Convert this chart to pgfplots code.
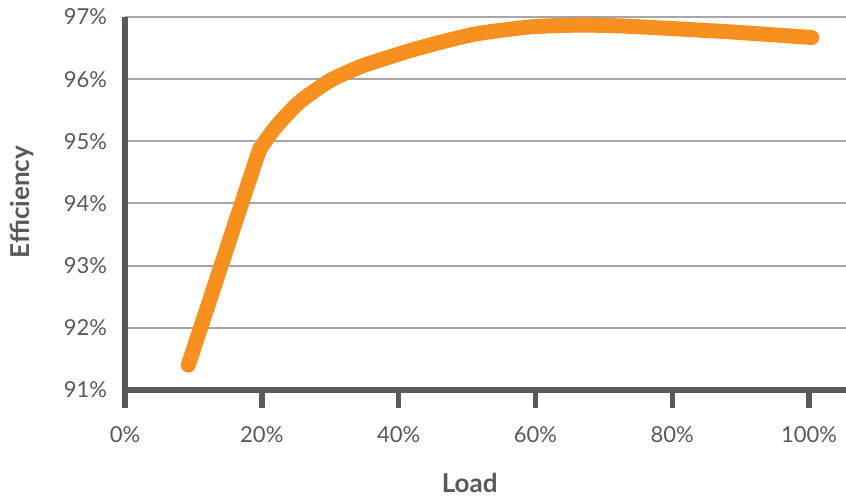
\documentclass[border=0pt]{standalone}
\usepackage{pgfplots}
\pgfplotsset{compat=1.18}
\usepackage{fontspec}
\setmainfont{Lato}

\definecolor{lineorange}{HTML}{F7901E}
\definecolor{axisgray}{HTML}{58595B}
\definecolor{gridgray}{HTML}{A5A7AA}
\definecolor{textgray}{HTML}{58595B}

\begin{document}
\begin{tikzpicture}
% page = 846x496 px at 0.5bp per px
\useasboundingbox (-62.5bp,-53bp) rectangle (360.5bp,195bp);
\begin{axis}[
	at={(0,0)}, anchor=south west,
	scale only axis,
	width=360.5bp, height=186.5bp,
	xmin=0, xmax=105.4,
	ymin=91, ymax=97,
	axis x line=bottom, axis y line=left,
	axis line style={-, line width=2.75bp, color=axisgray},
	xtick={0,20,40,60,80,100},
	xticklabels={0\%,20\%,40\%,60\%,80\%,100\%},
	ytick={91,92,93,94,95,96,97},
	yticklabels={91\%,92\%,93\%,94\%,95\%,96\%,97\%},
	tick align=outside,
	major tick length=9bp,
	xtick style={line width=2.75bp, color=axisgray},
	ytick style={draw=none},
	ymajorgrids,
	grid style={line width=1bp, color=gridgray},
	ticklabel style={font=\fontsize{11bp}{13bp}\selectfont, text=textgray},
	xticklabel style={yshift=-6bp},
	yticklabel style={xshift=3.5bp},
	xlabel={Load},
	ylabel={Efficiency},
	label style={font=\fontsize{13bp}{15bp}\selectfont\bfseries, text=textgray},
	xlabel style={at={(axis description cs:0.478,-0.249)}, anchor=center},
	ylabel style={at={(axis description cs:-0.1429,0.504)}, anchor=center},
	clip=false,
	]
\addplot[lineorange, line width=7.5bp, line cap=round, line join=round,
	smooth, tension=0.4] coordinates {
	(9.25, 91.40)
	(19.0, 94.65)
	(19.8, 94.88)
	(21.0, 95.08)
	(22.5, 95.29)
	(25.6, 95.64)
	(30.0, 95.98)
	(34.4, 96.20)
	(38.2, 96.34)
	(42.0, 96.47)
	(46.0, 96.59)
	(51.4, 96.73)
	(59.2, 96.84)
	(66.5, 96.87)
	(73.8, 96.85)
	(88.5, 96.76)
	(100.4, 96.67)
};
\end{axis}
\end{tikzpicture}
\end{document}
